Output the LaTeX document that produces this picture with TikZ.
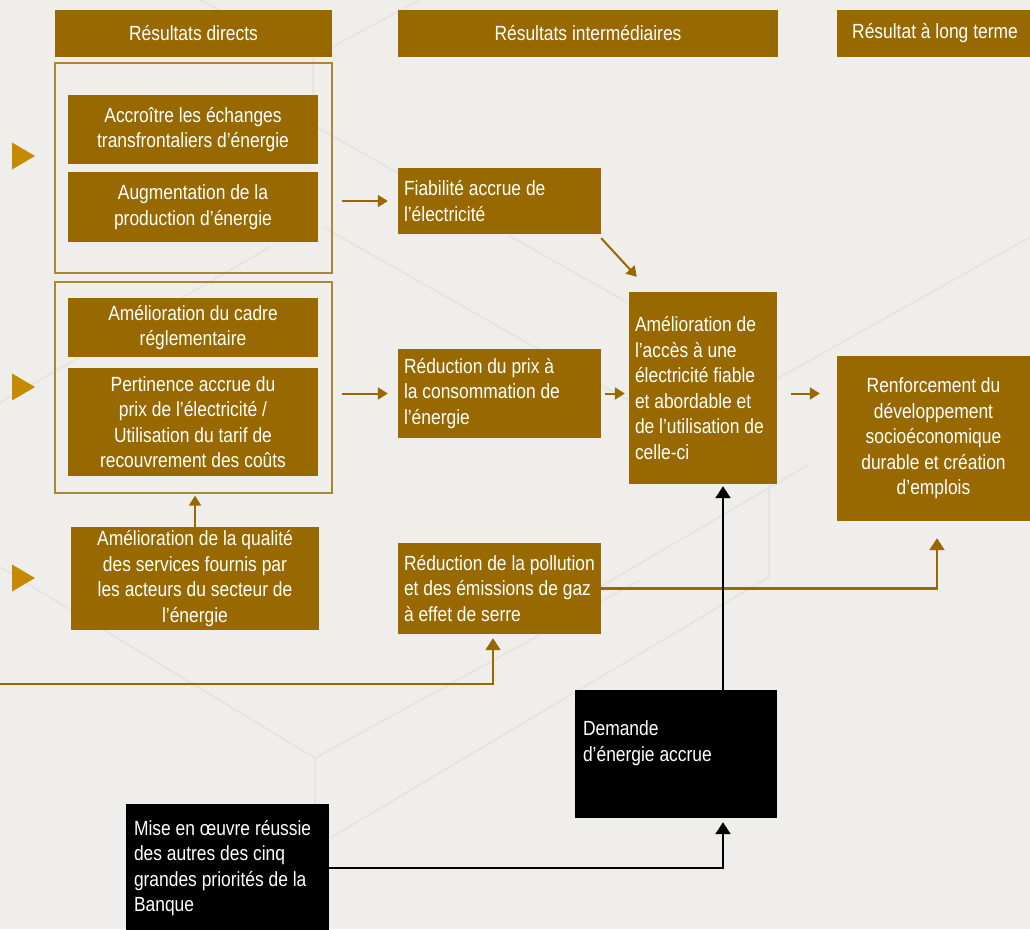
\documentclass[tikz,border=0pt]{standalone}
\usepackage{fontspec}
\setmainfont{Liberation Sans}[FakeStretch=0.85]
\usepackage{tikz}
\usetikzlibrary{arrows.meta}
\definecolor{brn}{HTML}{976900}
\definecolor{tri}{HTML}{C68A00}
\definecolor{bg}{HTML}{EFEEEA}
\definecolor{hexline}{HTML}{E5E3DE}
\newcommand{\txt}{\fontsize{20.5}{25.5}\selectfont}
\tikzset{
  box/.style={fill=brn, text=white, inner sep=0pt, align=center, font=\txt},
  lbox/.style={fill=brn, text=white, inner xsep=6pt, inner ysep=0pt, align=flush left, font=\txt},
  blk/.style={fill=black, text=white, inner xsep=8pt, inner ysep=0pt, align=flush left, font=\txt},
  frm/.style={draw=brn!80, line width=1.2pt, inner sep=0pt},
  arr/.style={draw=brn, line width=2.2pt, -{Triangle[width=15pt,length=12pt]}},
  sarr/.style={draw=brn, line width=2pt, -{Triangle[width=12pt,length=10pt]}},
  barr/.style={draw=black, line width=2.4pt, -{Triangle[width=15pt,length=12pt]}},
}

\begin{document}
\begin{tikzpicture}[x=1pt, y=-1pt]

        % page and background pattern
        \useasboundingbox (0,0) rectangle (1030,929);
        \clip (0,0) rectangle (1030,929);
        \fill[bg] (0,0) rectangle (1030,929);
        \draw[hexline, line width=1.5pt] (200,0) -- (313,57) -- (420,0);
        \draw[hexline, line width=1.5pt] (313,57) -- (313,125) -- (632,305);
        \draw[hexline, line width=1.5pt] (0,403) -- (270,247);
        \draw[hexline, line width=1.5pt] (323,227) -- (628,400);
        \draw[hexline, line width=1.5pt] (775,380) -- (1030,237);
        \draw[hexline, line width=1.5pt] (0,567) -- (315,758) -- (315,805);
        \draw[hexline, line width=1.5pt] (315,758) -- (640,580);
        \draw[hexline, line width=1.5pt] (330,838) -- (769,577) -- (769,485);
        \draw[hexline, line width=1.5pt] (598,588) -- (808,465);

        % column headers
        \node[box, minimum width=277pt, minimum height=47pt] (hdDir) at (193.5,33.5) {Résultats directs};
        \node[box, minimum width=380pt, minimum height=47pt] (hdInt) at (588,33.5) {Résultats intermédiaires};
        \node[box, minimum width=196pt, minimum height=47pt] (hdLong) at (935,33.5) {Résultat à long terme};

        % frames round the direct results
        \node[frm, minimum width=277pt, minimum height=210pt] (frA) at (193.5,168) {};
        \node[frm, minimum width=277pt, minimum height=211pt] (frB) at (193.5,387.5) {};

        % direct results
        \node[box, minimum width=250pt, minimum height=69pt] (echg) at (193,129.5) {Accroître les échanges\\transfrontaliers d’énergie};
        \node[box, minimum width=250pt, minimum height=70pt] (prod) at (193,207) {Augmentation de la\\production d’énergie};
        \node[box, minimum width=250pt, minimum height=59pt] (cadre) at (193,327.5) {Amélioration du cadre\\réglementaire};
        \node[box, minimum width=250pt, minimum height=108pt] (tarif) at (193,422) {Pertinence accrue du\\prix de l’électricité /\\Utilisation du tarif de\\recouvrement des coûts};
        \node[box, minimum width=248pt, minimum height=103pt] (qual) at (195,578.5) {Amélioration de la qualité\\des services fournis par\\les acteurs du secteur de\\l’énergie};

        % markers on the left
        \foreach \y in {156,387,578}
            \fill[tri] (12,\y-13.5) -- (35,\y) -- (12,\y+13.5) -- cycle;

        % intermediate results
        \node[lbox, text width=191pt, minimum height=66pt] (fiab) at (499.5,201) {Fiabilité accrue de\\l’électricité};
        \node[lbox, text width=191pt, minimum height=89pt] (prix) at (499.5,393.5) {Réduction du prix à\\la consommation de\\l’énergie};
        \node[lbox, text width=191pt, minimum height=91pt] (poll) at (499.5,588.5) {Réduction de la pollution\\et des émissions de gaz\\à effet de serre};
        \node[lbox, text width=136pt, minimum height=192pt] (acces) at (703,388) {Amélioration de\\l’accès à une\\électricité fiable\\et abordable et\\de l’utilisation de\\celle-ci};

        % long term result
        \node[box, minimum width=193pt, minimum height=165pt] (renf) at (933.5,438.5) {Renforcement du\\développement\\socioéconomique\\durable et création\\d’emplois};

        % outside factors
        \node[blk, text width=186pt, minimum height=128pt] (dem) at (676,754) {Demande\\d’énergie accrue\\\mbox{}};
        \node[blk, text width=187pt, minimum height=128pt] (mise) at (227.5,868) {Mise en œuvre réussie\\des autres des cinq\\grandes priorités de la\\Banque};
        \coordinate (lft) at (0,684);

        % brown connectors
        \draw[sarr, shorten <=9pt, shorten >=10pt] (frA.east |- fiab.west) -- (fiab.west);
        \draw[sarr, shorten <=9pt, shorten >=10pt] (frB.east |- prix.west) -- (prix.west);
        \draw[sarr, shorten <=4pt, shorten >=4pt] (prix.east) -- (prix.east -| acces.west);
        \draw[sarr, shorten <=14pt, shorten >=17pt] (acces.east |- prix.east) -- (renf.west |- prix.east);
        \draw[sarr] ([yshift=-4pt]fiab.south east) -- ([xshift=8pt,yshift=15pt]acces.north west);
        \draw[sarr, shorten >=2pt] (qual.north) -- (qual.north |- frB.south);
        \draw[arr, shorten >=4pt] (lft) -| ([xshift=-6.5pt]poll.south);
        \draw[arr, shorten >=17pt] (poll.east) -| ([xshift=3.5pt]renf.south);

        % black connectors
        \draw[barr, shorten >=2pt] ([xshift=47pt]dem.north) -- ([xshift=47pt]dem.north |- acces.south);
        \draw[barr, shorten >=4pt] (mise.east) -| ([xshift=47pt]dem.south);

\end{tikzpicture}
\end{document}
